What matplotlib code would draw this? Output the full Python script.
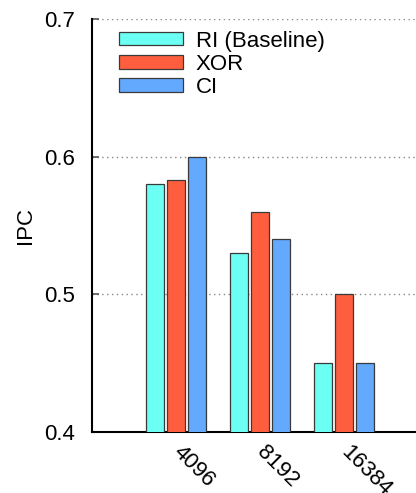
import numpy as np
import matplotlib.pyplot as plt

plt.rcParams['font.family'] = ['Liberation Sans', 'DejaVu Sans']

# IPC per table size
sizes = ['4096', '8192', '16384']
series = ['RI (Baseline)', 'XOR', 'CI']
ri = [0.580, 0.530, 0.450]
xor = [0.583, 0.560, 0.500]
ci = [0.600, 0.540, 0.450]
colors = ['#6cfff4', '#ff5e3e', '#63aaff']

fs = 16

fig = plt.figure(figsize=(4.16, 4.93), dpi=100)
# axes runs past the right edge of the figure on purpose
ax = fig.add_axes([92 / 416, 61 / 493, 336 / 416, 413 / 493])

x = np.arange(1, len(sizes) + 1)
w = 0.225
for i, (vals, name, col) in enumerate(zip([ri, xor, ci], series, colors)):
    ax.bar(x + (i - 1) * 0.25, vals, width=w, color=col, edgecolor='#3a3a3a',
           linewidth=0.9, label=name, zorder=3)

ax.set_xlim(0, 4)
ax.set_ylim(0.4, 0.7)
ax.set_yticks([0.4, 0.5, 0.6, 0.7])
ax.set_yticklabels(['0.4', '0.5', '0.6', '0.7'], fontsize=fs)
ax.set_xticks(x)
ax.set_xticklabels(sizes, fontsize=fs, rotation=-45, ha='left', va='center',
                   rotation_mode='anchor')
ax.tick_params(axis='x', length=0, pad=12)
ax.tick_params(axis='y', direction='in', length=5, width=1.2, color='#555555', pad=12)

for yv in [0.5, 0.6, 0.7]:
    ax.axhline(yv, color='#888888', linestyle=(0, (1, 2.5)), linewidth=1.0, zorder=1)

for s in ['top', 'right']:
    ax.spines[s].set_visible(False)
ax.spines['left'].set_linewidth(1.5)
ax.spines['bottom'].set_linewidth(1.5)

ax.set_ylabel('IPC', fontsize=fs, labelpad=6)

ax.legend(loc='upper left', bbox_to_anchor=(0.08, 0.972), frameon=False,
          fontsize=fs, handlelength=2.9, handleheight=0.55, labelspacing=0.1,
          handletextpad=0.55, borderaxespad=0, borderpad=0)

fig.savefig('out.png', dpi=100)
